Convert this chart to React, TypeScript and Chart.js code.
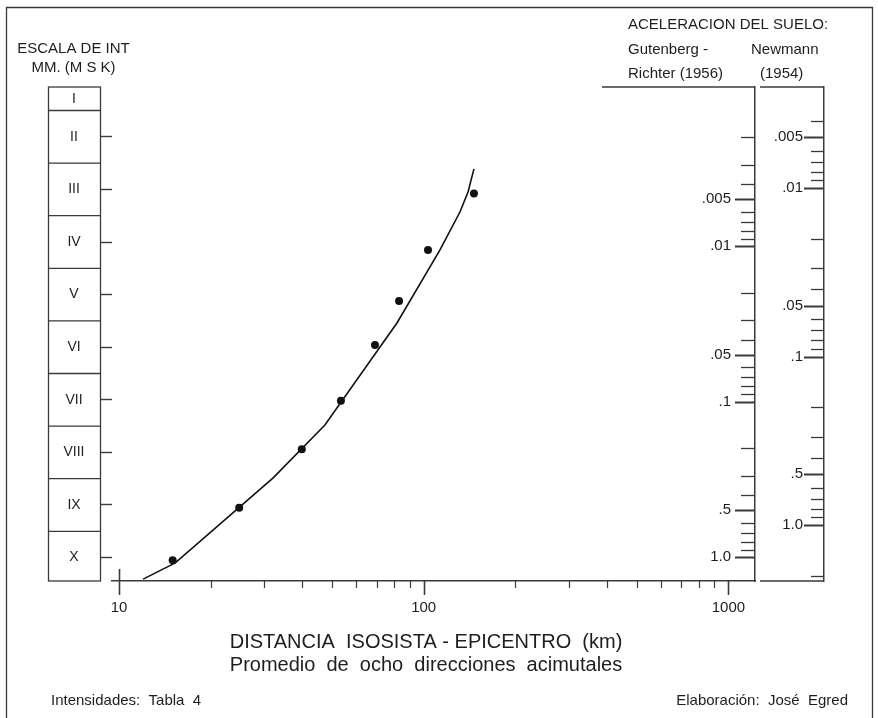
import React, { useEffect, useRef } from 'react';
import { Chart, registerables } from 'chart.js';

Chart.register(...registerables);

const FONT = '"Liberation Sans", Arial, Helvetica, sans-serif';
const INK = '#1e1e1e';
const AXIS = '#3a3a3a';

// Intensity scale (MSK)
const INTENSITY_LABELS = ['I', 'II', 'III', 'IV', 'V', 'VI', 'VII', 'VIII', 'IX', 'X'];
const INTENSITY_TICKS = [2, 3, 4, 5, 6, 7, 8, 9, 10];

// Fitted curve: distance (km) vs intensity
const CURVE_DIST = [12.0, 15.3, 32.0, 47.4, 81.7, 113.1, 131.5, 139.8, 146.2];
const CURVE_INT = [10.41, 10.1, 8.49, 7.48, 5.54, 4.15, 3.43, 3.05, 2.61];

// Observed mean isoseismal distances
const OBS_DIST = [15.0, 24.8, 39.8, 53.5, 69.2, 83.0, 103.3, 146.2];
const OBS_INT = [10.05, 9.05, 7.94, 7.02, 5.96, 5.12, 4.15, 3.08];

// Distance axis ticks
const DIST_TICKS = [10, 20, 30, 40, 50, 60, 70, 80, 90, 100, 200, 300, 400, 500, 600, 700, 800, 900, 1000];
const DIST_LABELS = [10, 100, 1000];

// Ground acceleration axes (g)
const GR_TICKS = [0.002, 0.003, 0.004, 0.005, 0.006, 0.007, 0.008, 0.009, 0.01, 0.02, 0.03, 0.04, 0.05, 0.06, 0.07, 0.08, 0.09, 0.1, 0.2, 0.3, 0.4, 0.5, 0.6, 0.7, 0.8, 0.9, 1.0];
const GR_LABELS = [0.005, 0.01, 0.05, 0.1, 0.5, 1.0];
const NEW_TICKS = [0.004, 0.005, 0.006, 0.007, 0.008, 0.009, 0.01, 0.02, 0.03, 0.04, 0.05, 0.06, 0.07, 0.08, 0.09, 0.1, 0.2, 0.3, 0.4, 0.5, 0.6, 0.7, 0.8, 0.9, 1.0, 2.0];
const NEW_LABELS = [0.005, 0.01, 0.05, 0.1, 0.5, 1.0];

const isIn = (list: number[], v: number) => list.some((l) => Math.abs(l - v) / l < 1e-6);
const accLabel = (v: number) => (v >= 1 ? v.toFixed(1) : String(v).replace(/^0/, ''));

const font = (size: number) => `${size}px ${FONT}`;

const framePlugin = {
  id: 'frame',
  afterDraw(chart: any) {
    const ctx = chart.ctx as CanvasRenderingContext2D;
    const y = chart.scales.y;
    ctx.save();
    ctx.strokeStyle = AXIS;
    ctx.lineWidth = 1.3;
    // outer frame
    ctx.beginPath();
    ctx.moveTo(6.5, 730);
    ctx.lineTo(6.5, 7.5);
    ctx.lineTo(872.5, 7.5);
    ctx.lineTo(872.5, 730);
    ctx.stroke();

    // header lines over the acceleration axes
    ctx.lineWidth = 1.5;
    ctx.beginPath();
    ctx.moveTo(602, y.top);
    ctx.lineTo(755, y.top);
    ctx.moveTo(760, y.top);
    ctx.lineTo(824, y.top);
    ctx.moveTo(760, y.bottom);
    ctx.lineTo(824, y.bottom);
    ctx.stroke();

    // intensity box
    const bx0 = 48;
    const bx1 = 100;
    ctx.lineWidth = 1.3;
    ctx.strokeRect(bx0 + 0.5, y.top, bx1 - bx0, y.bottom - y.top);
    ctx.beginPath();
    for (let i = 1; i < INTENSITY_LABELS.length; i++) {
      const py = y.getPixelForValue(i + 0.5);
      ctx.moveTo(bx0, py);
      ctx.lineTo(bx1, py);
    }
    ctx.stroke();

    ctx.fillStyle = INK;
    ctx.font = font(14);
    ctx.textAlign = 'center';
    ctx.textBaseline = 'middle';
    INTENSITY_LABELS.forEach((lab, i) => {
      const v = i + 1;
      let py = y.getPixelForValue(v);
      if (i === 0) py = (y.top + y.getPixelForValue(1.5)) / 2;
      ctx.fillText(lab, (bx0 + bx1) / 2, py);
    });

    // headers
    ctx.font = font(15);
    ctx.fillText('ESCALA DE INT', 73.5, 49);
    ctx.fillText('MM. (M S K)', 73.5, 68);
    ctx.textAlign = 'left';
    ctx.fillText('ACELERACION DEL SUELO:', 628, 25);
    ctx.fillText('Gutenberg -', 628, 50);
    ctx.fillText('Newmann', 751, 50);
    ctx.fillText('Richter (1956)', 628, 74);
    ctx.fillText('(1954)', 760, 74);

    // axis title
    ctx.textAlign = 'center';
    ctx.font = font(20);
    ctx.fillText('DISTANCIA  ISOSISTA - EPICENTRO  (km)', 426, 642);
    ctx.fillText('Promedio  de  ocho  direcciones  acimutales', 426, 665);

    // footers
    ctx.font = font(15);
    ctx.textAlign = 'left';
    ctx.fillText('Intensidades:  Tabla  4', 51, 701);
    ctx.textAlign = 'right';
    ctx.fillText('Elaboración:  José  Egred', 848, 701);
    ctx.restore();
  },
};

const tickPlugin = {
  id: 'customTicks',
  afterDraw(chart: any) {
    const ctx = chart.ctx as CanvasRenderingContext2D;
    const { x, gr, nw } = chart.scales;
    ctx.save();
    ctx.strokeStyle = AXIS;
    DIST_TICKS.forEach((v, i) => {
      const major = isIn(DIST_LABELS, v);
      const px = Math.round(x.getPixelForValue(v)) + 0.5;
      ctx.lineWidth = major ? 1.6 : 1.2;
      ctx.beginPath();
      ctx.moveTo(px, i === 0 ? x.top - 12 : x.top);
      ctx.lineTo(px, x.top + (major ? 14 : 7));
      ctx.stroke();
    });
    const drawLeftTicks = (scale: any, ticks: number[], labels: number[], lenMajor: number, lenMinor: number) => {
      ticks.forEach((v) => {
        const major = isIn(labels, v);
        const py = Math.round(scale.getPixelForValue(v)) + 0.5;
        ctx.lineWidth = major ? 2 : 1.3;
        ctx.beginPath();
        ctx.moveTo(scale.left - (major ? lenMajor : lenMinor), py);
        ctx.lineTo(scale.left, py);
        ctx.stroke();
      });
    };
    drawLeftTicks(gr, GR_TICKS, GR_LABELS, 20, 14);
    drawLeftTicks(nw, NEW_TICKS, NEW_LABELS, 20, 13);
    ctx.restore();
  },
};

export default function App() {
  const ref = useRef<HTMLCanvasElement | null>(null);

  useEffect(() => {
    if (!ref.current) return;
    Chart.defaults.font.family = FONT;
    const tickFont = { size: 15, family: FONT };
    const chart = new Chart(ref.current, {
      type: 'scatter',
      data: {
        datasets: [
          {
            type: 'line',
            label: 'curva',
            data: CURVE_DIST.map((d, i) => ({ x: d, y: CURVE_INT[i] })),
            borderColor: '#111',
            borderWidth: 1.6,
            pointRadius: 0,
            fill: false,
            tension: 0,
            xAxisID: 'x',
            yAxisID: 'y',
          } as any,
          {
            type: 'scatter',
            label: 'observado',
            data: OBS_DIST.map((d, i) => ({ x: d, y: OBS_INT[i] })),
            pointRadius: 4,
            pointBackgroundColor: '#111',
            pointBorderColor: '#111',
            pointBorderWidth: 0,
            xAxisID: 'x',
            yAxisID: 'y',
          } as any,
        ],
      },
      options: {
        animation: false,
        responsive: true,
        maintainAspectRatio: false,
        events: [],
        layout: { padding: { top: 87, left: 0, right: 0, bottom: 0 } },
        plugins: { legend: { display: false }, tooltip: { enabled: false }, title: { display: false } },
        scales: {
          x: {
            type: 'logarithmic',
            position: 'bottom',
            min: 9.485,
            max: 1222.6,
            afterBuildTicks: (s: any) => {
              s.ticks = DIST_TICKS.map((v) => ({ value: v }));
            },
            afterFit: (s: any) => {
              s.height = 137;
            },
            grid: { display: true, drawOnChartArea: false, drawTicks: false },
            border: { display: true, color: AXIS, width: 1.5 },
            ticks: {
              autoSkip: false,
              maxRotation: 0,
              minRotation: 0,
              padding: 18,
              color: INK,
              font: tickFont,
              callback: (v: any) => (isIn(DIST_LABELS, Number(v)) ? String(Number(v)) : ''),
            },
          },
          y: {
            type: 'linear',
            position: 'left',
            reverse: true,
            min: 1.053,
            max: 10.445,
            afterBuildTicks: (s: any) => {
              s.ticks = INTENSITY_TICKS.map((v) => ({ value: v }));
            },
            afterFit: (s: any) => {
              s.width = 112;
            },
            grid: { drawOnChartArea: false, drawTicks: true, tickLength: 12, tickColor: AXIS, tickWidth: 1.4 },
            border: { display: false },
            ticks: { display: false },
          },
          gr: {
            type: 'logarithmic',
            position: 'right',
            reverse: true,
            weight: 0,
            min: 0.0009495,
            max: 1.4267,
            afterBuildTicks: (s: any) => {
              s.ticks = GR_TICKS.map((v) => ({ value: v }));
            },
            afterFit: (s: any) => {
              s.width = 69;
            },
            grid: { display: true, drawOnChartArea: false, drawTicks: false },
            border: { display: true, color: AXIS, width: 1.5 },
            ticks: {
              mirror: true,
              padding: -24,
              autoSkip: false,
              color: INK,
              font: tickFont,
              callback: (v: any) => (isIn(GR_LABELS, Number(v)) ? accLabel(Number(v)) : ''),
            },
          },
          nw: {
            type: 'logarithmic',
            position: 'right',
            reverse: true,
            weight: 1,
            min: 0.002516,
            max: 2.149,
            afterBuildTicks: (s: any) => {
              s.ticks = NEW_TICKS.map((v) => ({ value: v }));
            },
            afterFit: (s: any) => {
              s.width = 54;
            },
            grid: { display: true, drawOnChartArea: false, drawTicks: false },
            border: { display: true, color: AXIS, width: 1.5 },
            ticks: {
              mirror: true,
              padding: -21,
              autoSkip: false,
              color: INK,
              font: tickFont,
              callback: (v: any) => (isIn(NEW_LABELS, Number(v)) ? accLabel(Number(v)) : ''),
            },
          },
        } as any,
      },
      plugins: [framePlugin, tickPlugin],
    });
    return () => chart.destroy();
  }, []);

  return (
    <div style={{ position: 'absolute', left: 0, top: 0, width: 878, height: 718, background: '#fff' }}>
      <canvas ref={ref} />
    </div>
  );
}
